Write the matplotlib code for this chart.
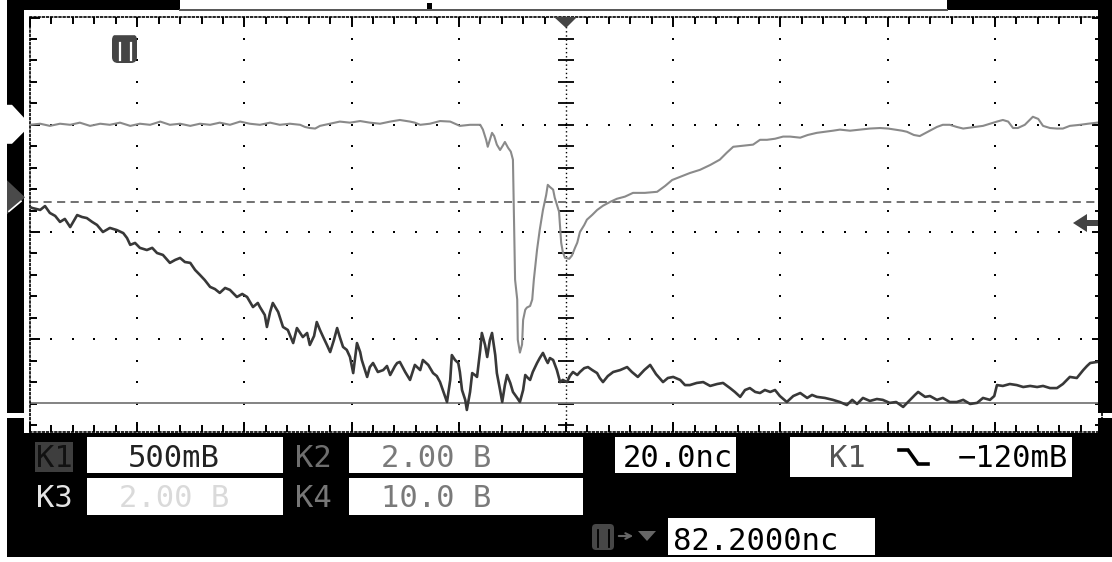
import numpy as np
import matplotlib as mpl
mpl.use('Agg')
import matplotlib.pyplot as plt
from matplotlib.patches import Rectangle, Polygon, FancyBboxPatch
from matplotlib.ticker import MultipleLocator

mpl.rcParams['font.family'] = ['DejaVu Sans Mono', 'DejaVu Sans']

# scope settings (from the readout)
NS_PER_DIV = 20.0
K1_V_PER_DIV = 0.5
K2_V_PER_DIV = 2.0
K1_GROUND_DIV = 0.324     # K1 ground marker, divisions above screen middle
K2_GROUND_DIV = 1.0       # K2 ground marker
K4_LEVEL_DIV = -1.595     # flat K4 trace
CURSOR_DIV = 0.28         # dashed reference line
TRIG_LEVEL_V = -0.12      # K1 falling edge, -120 mV

# K1 (dark trace): time [ns] relative to trigger, volts
k1_t = [
    -100.0, -99.6, -98.1, -97.2, -96.3, -95.3, -94.4, -93.5, -92.5, -91.2,
    -90.3, -89.4, -88.4, -87.5, -86.4, -85.1, -83.8, -82.6, -81.9, -81.3,
    -80.4, -79.5, -78.2, -77.2, -76.3, -75.2, -73.9, -72.9, -72.0, -71.1,
    -70.1, -69.2, -68.3, -67.4, -66.4, -65.5, -64.6, -63.6, -62.7, -61.4,
    -60.4, -59.5, -58.4, -57.5, -57.1, -56.2, -55.8, -55.2, -54.7, -53.7,
    -52.8, -51.9, -50.9, -50.2, -49.1, -48.3, -47.8, -47.0, -46.5, -45.9,
    -45.3, -44.6, -44.0, -43.3, -42.7, -42.2, -41.6, -40.9, -40.3, -39.7,
    -39.0, -38.4, -38.1, -37.5, -37.1, -36.6, -36.0, -35.1, -34.1, -33.4,
    -32.8, -31.9, -31.5, -31.0, -30.0, -29.1, -28.2, -27.2, -26.7, -25.7,
    -24.8, -24.1, -23.5, -22.6, -22.2, -21.6, -21.3, -20.7, -20.1, -19.8,
    -19.4, -18.8, -18.5, -17.9, -17.5, -17.0, -16.6, -16.0, -15.7, -15.1,
    -14.7, -14.2, -13.8, -13.2, -12.9, -12.3, -11.9, -11.4, -11.0, -10.4,
    -9.9, -9.1, -8.6, -8.0, -7.6, -7.1, -6.7, -6.2, -5.4, -4.9,
    -4.3, -3.7, -3.4, -3.0, -2.4, -1.7, -1.1, -0.6, 0.2, 0.7,
    1.3, 2.1, 2.6, 3.4, 4.1, 4.9, 5.8, 6.3, 6.9, 7.8,
    8.8, 10.1, 11.4, 12.3, 13.4, 14.6, 15.7, 16.8, 18.1, 19.0,
    20.0, 21.3, 22.2, 23.1, 24.4, 25.6, 26.9, 28.2, 29.3, 30.6,
    31.5, 32.5, 33.4, 34.3, 35.3, 36.2, 37.1, 38.1, 39.0, 39.9,
    41.2, 42.4, 43.7, 45.0, 45.9, 46.8, 48.3, 49.8, 51.1, 52.4,
    53.4, 54.3, 55.4, 56.7, 58.0, 59.1, 60.4, 61.6, 62.9, 64.2,
    65.1, 65.7, 67.0, 67.9, 69.2, 70.3, 71.6, 72.9, 74.1, 75.4,
    76.7, 77.8, 79.1, 79.9, 80.4, 81.5, 82.8, 84.1, 85.3, 86.6,
    87.9, 89.0, 90.3, 91.6, 92.7, 94.0, 95.3, 96.5, 97.2, 97.8,
    99.1]
k1_v = [
    -0.045, -0.050, -0.059, -0.041, -0.073, -0.087, -0.115, -0.101, -0.139, -0.083,
    -0.092, -0.097, -0.115, -0.129, -0.162, -0.143, -0.153, -0.167, -0.190, -0.222,
    -0.213, -0.236, -0.246, -0.236, -0.260, -0.269, -0.306, -0.292, -0.283, -0.302,
    -0.306, -0.339, -0.362, -0.386, -0.418, -0.428, -0.446, -0.423, -0.432, -0.465,
    -0.451, -0.465, -0.512, -0.493, -0.512, -0.549, -0.605, -0.535, -0.493, -0.535,
    -0.605, -0.619, -0.680, -0.610, -0.652, -0.633, -0.689, -0.647, -0.582, -0.619,
    -0.652, -0.689, -0.722, -0.666, -0.610, -0.652, -0.698, -0.712, -0.745, -0.820,
    -0.680, -0.722, -0.759, -0.806, -0.838, -0.792, -0.773, -0.815, -0.806, -0.787,
    -0.829, -0.787, -0.773, -0.768, -0.815, -0.852, -0.782, -0.806, -0.759, -0.782,
    -0.820, -0.834, -0.862, -0.927, -0.955, -0.852, -0.736, -0.759, -0.773, -0.815,
    -0.899, -0.945, -0.992, -0.908, -0.820, -0.829, -0.838, -0.712, -0.633, -0.689,
    -0.745, -0.666, -0.633, -0.736, -0.820, -0.899, -0.955, -0.876, -0.829, -0.866,
    -0.908, -0.936, -0.955, -0.899, -0.829, -0.843, -0.852, -0.815, -0.773, -0.750,
    -0.726, -0.759, -0.773, -0.750, -0.759, -0.806, -0.862, -0.852, -0.862, -0.834,
    -0.815, -0.829, -0.815, -0.797, -0.792, -0.806, -0.820, -0.843, -0.862, -0.834,
    -0.815, -0.806, -0.792, -0.815, -0.838, -0.806, -0.782, -0.825, -0.862, -0.843,
    -0.838, -0.852, -0.876, -0.876, -0.866, -0.862, -0.880, -0.871, -0.866, -0.890,
    -0.908, -0.931, -0.899, -0.890, -0.908, -0.913, -0.899, -0.908, -0.899, -0.927,
    -0.955, -0.927, -0.913, -0.936, -0.922, -0.931, -0.936, -0.945, -0.955, -0.969,
    -0.945, -0.964, -0.936, -0.950, -0.941, -0.945, -0.959, -0.955, -0.978, -0.945,
    -0.922, -0.908, -0.931, -0.927, -0.945, -0.936, -0.955, -0.955, -0.945, -0.964,
    -0.959, -0.936, -0.945, -0.927, -0.876, -0.880, -0.871, -0.876, -0.885, -0.880,
    -0.885, -0.880, -0.890, -0.890, -0.871, -0.838, -0.843, -0.806, -0.787, -0.773,
    -0.768]

# K2 (grey trace): time [ns], volts
k2_t = [
    -100.0, -98.1, -96.3, -94.4, -92.5, -90.7, -88.8, -86.9, -85.1, -83.2,
    -81.3, -79.5, -77.6, -75.7, -73.9, -72.0, -70.1, -68.3, -66.4, -64.6,
    -62.7, -60.8, -59.0, -57.1, -55.2, -53.4, -51.5, -49.6, -48.7, -47.8,
    -46.8, -45.9, -44.0, -42.2, -40.3, -38.4, -36.6, -34.7, -32.8, -31.0,
    -29.1, -28.2, -27.2, -25.4, -23.5, -21.6, -19.8, -17.9, -16.0, -15.5,
    -14.9, -14.6, -14.2, -13.8, -13.4, -12.9, -12.3, -11.8, -11.4, -10.8,
    -10.3, -9.9, -9.7, -9.5, -9.1, -9.0, -8.6, -8.2, -8.0, -7.6,
    -7.3, -6.7, -6.3, -6.0, -5.4, -4.9, -4.3, -3.7, -3.4, -3.0,
    -2.4, -2.1, -1.7, -1.3, -1.1, -0.9, -0.6, -0.2, 0.6, 1.1,
    1.7, 2.1, 2.6, 3.4, 3.9, 4.9, 5.8, 6.9, 8.2, 9.5,
    11.0, 12.5, 14.7, 17.0, 18.5, 19.8, 21.3, 23.1, 25.0, 26.9,
    28.7, 30.0, 31.2, 33.0, 34.9, 36.2, 37.5, 39.0, 40.5, 41.8,
    43.7, 45.1, 46.8, 48.3, 49.8, 51.1, 53.0, 54.9, 56.7, 58.6,
    60.1, 61.4, 62.7, 63.6, 64.9, 66.0, 67.5, 69.2, 70.3, 71.6,
    72.9, 74.1, 74.8, 76.3, 77.8, 79.1, 80.4, 81.5, 82.5, 83.4,
    84.3, 85.6, 87.1, 88.1, 89.0, 90.3, 91.6, 92.7, 94.0, 95.9,
    97.4, 99.1]
k2_v = [
    0.00, 0.02, -0.02, 0.02, 0.00, 0.04, -0.02, 0.02, 0.00, 0.04,
    -0.02, 0.02, 0.00, 0.06, 0.00, 0.02, -0.02, 0.02, 0.00, 0.04,
    0.00, 0.06, 0.02, 0.00, 0.04, 0.00, 0.02, 0.00, -0.04, -0.06,
    -0.07, -0.02, 0.02, 0.06, 0.04, 0.07, 0.04, 0.02, 0.06, 0.09,
    0.06, 0.04, 0.00, 0.02, 0.07, 0.06, -0.02, 0.00, 0.00, -0.09,
    -0.28, -0.41, -0.28, -0.15, -0.21, -0.37, -0.47, -0.39, -0.32, -0.43,
    -0.50, -0.65, -1.77, -2.89, -3.26, -4.01, -4.25, -4.10, -3.64, -3.45,
    -3.41, -3.38, -3.26, -2.89, -2.33, -1.96, -1.59, -1.31, -1.12, -1.16,
    -1.21, -1.36, -1.49, -1.62, -1.92, -2.20, -2.37, -2.48, -2.50, -2.44,
    -2.29, -2.20, -2.00, -1.87, -1.77, -1.68, -1.59, -1.51, -1.44, -1.38,
    -1.34, -1.27, -1.27, -1.25, -1.14, -1.03, -0.97, -0.90, -0.84, -0.75,
    -0.65, -0.52, -0.41, -0.39, -0.37, -0.28, -0.28, -0.26, -0.22, -0.22,
    -0.24, -0.19, -0.15, -0.13, -0.11, -0.09, -0.11, -0.09, -0.07, -0.06,
    -0.07, -0.09, -0.11, -0.13, -0.19, -0.21, -0.13, -0.04, 0.00, 0.00,
    -0.04, -0.07, -0.06, -0.04, -0.02, 0.02, 0.06, 0.09, 0.06, -0.06,
    -0.06, 0.00, 0.15, 0.11, -0.02, -0.06, -0.07, -0.07, -0.02, 0.00,
    0.02, 0.04]

# readout panel texts
ch_labels = ['K1', 'K2', 'K3', 'K4']
ch_scales = ['500mB', '2.00 B', '2.00 B', '10.0 B']
timebase = '20.0nc'
trig_src, trig_level = 'K1', '-120mB'
delay = '82.2000nc'

# screen geometry in pixels
W, H = 1112, 562
PX_PER_DIV = 107.2
MID_Y = 232
SCR_L, SCR_R, SCR_T, SCR_B = 30, 1102, 17, 432


def div_to_px(d):
    return MID_Y - d * PX_PER_DIV


def main():
    fig = plt.figure(figsize=(W / 100, H / 100), dpi=100)
    fig.patch.set_facecolor('white')

    ax = fig.add_axes([SCR_L / W, 1 - SCR_B / H, (SCR_R - SCR_L) / W, (SCR_B - SCR_T) / H])
    ax.set_xlim(-5 * NS_PER_DIV, 5 * NS_PER_DIV)
    ax.set_ylim((MID_Y - SCR_B) / PX_PER_DIV, (MID_Y - SCR_T) / PX_PER_DIV)
    ax.set_facecolor('white')

    # graticule: edge ticks
    ax.xaxis.set_major_locator(MultipleLocator(NS_PER_DIV))
    ax.xaxis.set_minor_locator(MultipleLocator(NS_PER_DIV / 5))
    ax.yaxis.set_major_locator(MultipleLocator(1))
    ax.yaxis.set_minor_locator(MultipleLocator(0.2))
    ax.tick_params(which='both', direction='in', top=True, right=True,
                   labelbottom=False, labelleft=False, color='black', width=1.4)
    ax.tick_params(which='major', length=7)
    ax.tick_params(which='minor', length=5)
    for s in ax.spines.values():
        s.set_linestyle((0, (1, 1.5)))
        s.set_linewidth(1.2)

    # graticule: dotted division lines
    yy = np.arange(-9, 11) * 0.2
    xmaj = [-80, -60, -40, -20, 20, 40, 60, 80]
    gx, gy = np.meshgrid(xmaj, yy)
    ax.scatter(gx.ravel(), gy.ravel(), s=3, marker='s', color='black', lw=0, zorder=1)
    xx = np.arange(-24, 25) * NS_PER_DIV / 5
    gx, gy = np.meshgrid(xx, [-1, 0, 1])
    ax.scatter(gx.ravel(), gy.ravel(), s=3, marker='s', color='black', lw=0, zorder=1)
    ax.axvline(0, color='black', lw=1.0, ls=(0, (1, 2)), zorder=1)
    ax.plot(np.zeros_like(yy), yy, ls='none', marker='_', ms=12, mew=1.3, color='black', zorder=1)

    # reference lines
    ax.axhline(CURSOR_DIV, color='#666666', lw=1.3, ls=(0, (4.5, 3)), zorder=2)
    ax.axhline(K4_LEVEL_DIV, color='#7a7a7a', lw=1.3, zorder=2)

    # traces
    ax.plot(k2_t, K2_GROUND_DIV + np.array(k2_v) / K2_V_PER_DIV,
            color='#8a8a8a', lw=1.5, zorder=3)
    ax.plot(k1_t, K1_GROUND_DIV + np.array(k1_v) / K1_V_PER_DIV,
            color='#383838', lw=1.9, zorder=4)

    # overlay in pixel coordinates for the instrument frame and readouts
    deco = fig.add_axes([0, 0, 1, 1], zorder=10)
    deco.set_xlim(0, W)
    deco.set_ylim(H, 0)
    deco.axis('off')
    deco.patch.set_alpha(0)

    blk = dict(fc='black', ec='none')
    deco.add_patch(Rectangle((7, 0), 17, 413, **blk))
    deco.add_patch(Rectangle((7, 0), 173, 10, **blk))
    deco.add_patch(Rectangle((947, 0), 165, 10, **blk))
    deco.add_patch(Rectangle((1098, 0), 14, 413, **blk))
    deco.add_patch(Rectangle((7, 418), 17, 20, **blk))
    deco.add_patch(Rectangle((1098, 418), 14, 20, **blk))
    deco.add_patch(Rectangle((7, 433), 1105, 124, **blk))
    deco.plot([180, 947], [9.5, 9.5], color='#555555', lw=1.4)
    deco.add_patch(Rectangle((427, 3), 5, 6, **blk))

    # ground markers on the left
    g2 = div_to_px(K2_GROUND_DIV)
    deco.add_patch(Polygon([(7, g2 - 20), (12, g2 - 20), (25, g2 - 6), (25, g2 + 6),
                            (12, g2 + 19), (7, g2 + 19)], fc='white', ec='none'))
    g1 = div_to_px(K1_GROUND_DIV)
    deco.add_patch(Polygon([(7, g1 - 17), (25, g1), (7, g1 + 17)], fc='#4a4a4a', ec='none'))
    deco.plot([9, 21], [g1 + 14, g1 + 4], color='white', lw=1.2)

    # trigger level arrow on the right
    ty = div_to_px(K1_GROUND_DIV + TRIG_LEVEL_V / K1_V_PER_DIV)
    deco.add_patch(Polygon([(1073, ty), (1087, ty - 9), (1087, ty + 9)], fc='#444444', ec='none'))
    deco.add_patch(Rectangle((1086, ty - 3), 12, 6, fc='#444444', ec='none'))

    # trigger position marker at the top
    tx = SCR_L + (SCR_R - SCR_L) / 2
    deco.add_patch(Polygon([(tx - 12, 17), (tx + 11, 17), (tx, 28)], fc='#444444', ec='none'))

    # trigger badge inside the screen
    deco.add_patch(FancyBboxPatch((112, 34), 25, 29, boxstyle='round,pad=0,rounding_size=6',
                                  fc='#454545', ec='none'))
    deco.plot([114, 135], [34, 34], color='white', lw=1.0)
    deco.plot([119.5, 119.5], [43, 60], color='white', lw=1.6)
    deco.plot([130.5, 130.5], [43, 60], color='white', lw=1.6)

    # readout boxes
    wb = dict(fc='white', ec='none')
    deco.add_patch(Rectangle((87, 437), 196, 36, **wb))
    deco.add_patch(Rectangle((349, 437), 234, 36, **wb))
    deco.add_patch(Rectangle((87, 478), 196, 37, **wb))
    deco.add_patch(Rectangle((349, 478), 234, 37, **wb))
    deco.add_patch(Rectangle((615, 437), 121, 36, **wb))
    deco.add_patch(Rectangle((790, 437), 282, 40, **wb))
    deco.add_patch(Rectangle((668, 518), 207, 37, **wb))
    deco.add_patch(Rectangle((35, 442), 38, 30, fc='#3e3e3e', ec='none'))

    fs = 22
    ctr = dict(fontsize=fs, va='baseline', ha='center')
    deco.text(54, 467, ch_labels[0], color='#111111', **ctr)
    deco.text(174, 467, ch_scales[0], color='#222222', **ctr)
    deco.text(313, 467, ch_labels[1], color='#6e6e6e', **ctr)
    deco.text(436, 467, ch_scales[1], color='#7a7a7a', **ctr)
    deco.text(54, 507, ch_labels[2], color='#e4e4e4', **ctr)
    deco.text(174, 507, ch_scales[2], color='#dadada', **ctr)
    deco.text(313, 507, ch_labels[3], color='#777777', **ctr)
    deco.text(436, 507, ch_scales[3], color='#7a7a7a', **ctr)
    deco.text(678, 467, timebase, color='black', **ctr)
    deco.text(847, 467, trig_src, color='#555555', **ctr)
    deco.plot([899, 908, 918, 928], [450, 450, 464, 464], color='black', lw=2.6,
              solid_joinstyle='miter')
    deco.text(1068, 467, trig_level.replace('-', '\u2212'), color='black',
              fontsize=fs, va='baseline', ha='right')
    deco.text(673, 550, delay, color='black', fontsize=fs, va='baseline', ha='left')

    # delay icon
    deco.add_patch(FancyBboxPatch((592, 524), 22, 26, boxstyle='round,pad=0,rounding_size=4',
                                  fc='#474747', ec='none'))
    deco.plot([597.5, 597.5], [530, 547], color='black', lw=1.3)
    deco.plot([608.5, 608.5], [530, 547], color='black', lw=1.3)
    deco.annotate('', xy=(636, 536), xytext=(616, 536),
                  arrowprops=dict(arrowstyle='->', color='#666666', lw=1.5))
    deco.add_patch(Polygon([(638, 531), (656, 531), (647, 541)], fc='#666666', ec='none'))

    fig.savefig('out.png', dpi=100, facecolor='white')


if __name__ == '__main__':
    main()
